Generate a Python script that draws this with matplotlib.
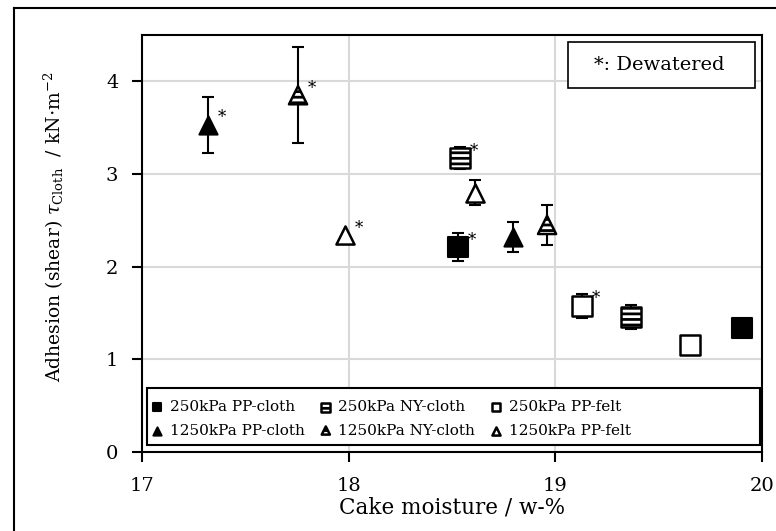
import matplotlib
matplotlib.use('Agg')
import matplotlib.pyplot as plt
from matplotlib.patches import Rectangle
from matplotlib.lines import Line2D

plt.rcParams['font.family'] = 'DejaVu Serif'
plt.rcParams['mathtext.fontset'] = 'dejavuserif'
plt.rcParams['hatch.linewidth'] = 2.0

# 250 kPa series
pp_cloth_250_x = [18.53, 19.905]
pp_cloth_250_y = [2.21, 1.34]
pp_cloth_250_err = [0.15, 0.0]
pp_cloth_250_dw = [True, False]

ny_cloth_250_x = [18.54, 19.365]
ny_cloth_250_y = [3.17, 1.46]
ny_cloth_250_err = [0.12, 0.13]
ny_cloth_250_dw = [True, False]

pp_felt_250_x = [19.13, 19.65]
pp_felt_250_y = [1.58, 1.15]
pp_felt_250_err = [0.13, 0.0]
pp_felt_250_dw = [True, False]

# 1250 kPa series
pp_cloth_1250_x = [17.32, 18.795]
pp_cloth_1250_y = [3.53, 2.32]
pp_cloth_1250_err = [0.30, 0.16]
pp_cloth_1250_dw = [True, False]

ny_cloth_1250_x = [17.755, 18.96]
ny_cloth_1250_y = [3.85, 2.45]
ny_cloth_1250_err = [0.52, 0.22]
ny_cloth_1250_dw = [True, False]

pp_felt_1250_x = [17.98, 18.61]
pp_felt_1250_y = [2.34, 2.80]
pp_felt_1250_err = [0.0, 0.13]
pp_felt_1250_dw = [True, False]

series = [
    ("250kPa PP-cloth", pp_cloth_250_x, pp_cloth_250_y, pp_cloth_250_err, pp_cloth_250_dw, 's', 'filled'),
    ("1250kPa PP-cloth", pp_cloth_1250_x, pp_cloth_1250_y, pp_cloth_1250_err, pp_cloth_1250_dw, '^', 'filled'),
    ("250kPa NY-cloth", ny_cloth_250_x, ny_cloth_250_y, ny_cloth_250_err, ny_cloth_250_dw, 's', 'hatched'),
    ("1250kPa NY-cloth", ny_cloth_1250_x, ny_cloth_1250_y, ny_cloth_1250_err, ny_cloth_1250_dw, '^', 'hatched'),
    ("250kPa PP-felt", pp_felt_250_x, pp_felt_250_y, pp_felt_250_err, pp_felt_250_dw, 's', 'open'),
    ("1250kPa PP-felt", pp_felt_1250_x, pp_felt_1250_y, pp_felt_1250_err, pp_felt_1250_dw, '^', 'open'),
]

fig = plt.figure(figsize=(7.76, 5.31), dpi=100)
ax = fig.add_axes([142/776, 1-452/531, 620/776, 417/531])

handles = []
for label, xs, ys, errs, dws, marker, style in series:
    ex = [x for x, e in zip(xs, errs) if e > 0]
    ey = [y for y, e in zip(ys, errs) if e > 0]
    ee = [e for e in errs if e > 0]
    if ex:
        ax.errorbar(ex, ey, yerr=ee, fmt='none', ecolor='black', elinewidth=1.5,
                    capsize=4.5, capthick=1.5, zorder=3)
    size = 200 if marker == 's' else 170
    if style == 'filled':
        sc = ax.scatter(xs, ys, s=size, marker=marker, facecolor='black',
                        edgecolor='black', linewidths=1.5, zorder=4, label=label)
    elif style == 'hatched':
        sc = ax.scatter(xs, ys, s=size, marker=marker, facecolor='white',
                        edgecolor='black', linewidths=1.8, hatch='---', zorder=4, label=label)
    else:
        sc = ax.scatter(xs, ys, s=size, marker=marker, facecolor='white',
                        edgecolor='black', linewidths=1.8, zorder=4, label=label)
    handles.append(sc)
    for x, y, d in zip(xs, ys, dws):
        if d:
            ax.annotate('*', (x, y), xytext=(10, 5), textcoords='offset points',
                        fontsize=12, ha='center', va='center', zorder=5)

ax.set_xlim(17, 20)
ax.set_ylim(0, 4.5)
ax.set_xticks([17, 18, 19, 20])
ax.set_yticks([0, 1, 2, 3, 4])
ax.grid(True, color='#d9d9d9', linewidth=1.5, zorder=0)
ax.set_axisbelow(True)
ax.tick_params(direction='out', length=7, width=1.5, labelsize=14, colors='black')
ax.tick_params(axis='x', pad=11)
ax.tick_params(axis='y', pad=10)
for sp in ax.spines.values():
    sp.set_linewidth(1.5)
    sp.set_color('black')

ax.set_xlabel("Cake moisture / w-%", fontsize=15.5, labelpad=1)
ax.set_ylabel(r"Adhesion (shear) $\tau_{\rm Cloth}$  / kN$\cdot$m$^{-2}$", fontsize=13.5)
ax.yaxis.set_label_coords(-0.122, 0.54)

# legend: columns filled top-down, so this reads row-wise like the reference
leg = ax.legend(handles, [h.get_label() for h in handles], ncol=3,
                loc='lower left', bbox_to_anchor=(0.005, 0.02),
                fontsize=11, markerscale=0.45, frameon=False,
                handlelength=0.8, handletextpad=0.4, borderaxespad=0,
                columnspacing=1.0, scatterpoints=1, labelspacing=0.6,
                borderpad=0.4)
leg.set_zorder(7)
ax.add_patch(Rectangle((0.008, 0.017), 0.989, 0.136, transform=ax.transAxes,
                       facecolor='white', edgecolor='black', linewidth=1.5, zorder=6))

# Dewatered note box
ax.add_patch(Rectangle((0.687, 0.873), 0.302, 0.110, transform=ax.transAxes,
                       facecolor='white', edgecolor='black', linewidth=1.2, zorder=6))
ax.text(0.835, 0.928, "*: Dewatered", transform=ax.transAxes, ha='center',
        va='center', fontsize=14, zorder=7)

# outer frame (cropped)
fig.add_artist(Line2D([14/776, 14/776], [0, 1-8/531], transform=fig.transFigure,
                      color='black', linewidth=1.5))
fig.add_artist(Line2D([14/776, 1], [1-8/531, 1-8/531], transform=fig.transFigure,
                      color='black', linewidth=1.5))

fig.savefig('out.png', dpi=100)
